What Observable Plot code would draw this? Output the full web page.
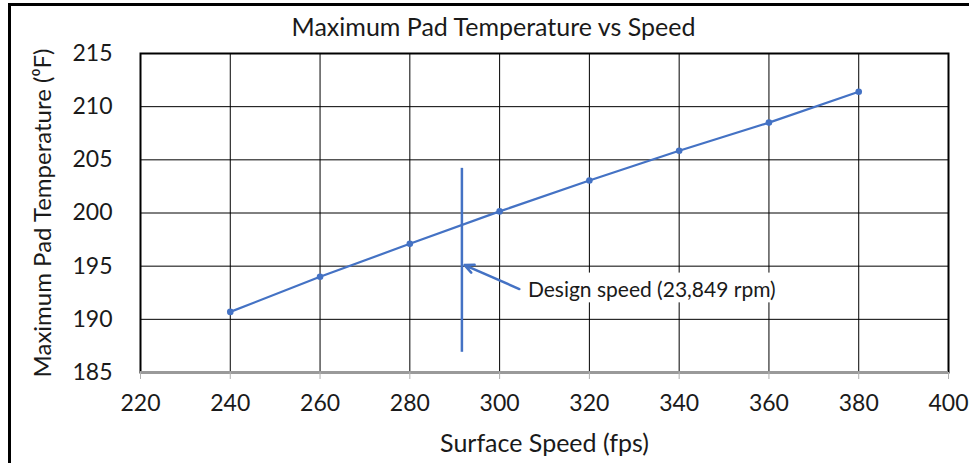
<!DOCTYPE html>
<html>
<head>
<meta charset="utf-8">
<script src="https://cdn.jsdelivr.net/npm/d3@7"></script>
<script src="https://cdn.jsdelivr.net/npm/@observablehq/plot@0.6"></script>
<style>
  html, body { margin: 0; padding: 0; background: #fff; }
  #wrap { position: relative; width: 969px; height: 463px; overflow: hidden; }
  #border { position: absolute; left: 8px; top: 3px; width: 980px; height: 480px;
            border-top: 3px solid #000; border-left: 3px solid #000; pointer-events: none; }
</style>
</head>
<body>
<div id="wrap"><div id="border"></div></div>
<script>
// Data
const speeds = [240, 260, 280, 300, 320, 340, 360, 380];          // Surface speed (fps)
const temps  = [190.7, 194.0, 197.1, 200.15, 203.05, 205.85, 208.5, 211.4]; // Max pad temperature (°F)

const xTicks = [220, 240, 260, 280, 300, 320, 340, 360, 380, 400];
const yTicks = [185, 190, 195, 200, 205, 210, 215];

const titleText = "Maximum Pad Temperature vs Speed";
const xLabel = "Surface Speed (fps)";
const yLabel = "Maximum Pad Temperature (\u2070F)";

// Design speed marker and annotation
const designSpeed = [291.6];
const designRange = [186.9, 204.2];
const annoText = ["Design speed (23,849 rpm)"];
const annoArrow = [{x1: 304.4, y1: 192.85, x2: 292.2, y2: 195.1}];
const annoBox = [{x1: 304.0, x2: 371.0, y1: 191.55, y2: 194.35}];
const annoLabelPos = [{x: 306.3, y: 192.75}];

const blue = "#4472C4";
const data = speeds.map((s, i) => ({speed: s, temp: temps[i]}));

const chart = Plot.plot({
  width: 969,
  height: 463,
  marginLeft: 140,
  marginRight: 21,
  marginTop: 53,
  marginBottom: 91,
  style: {fontFamily: "Lato, 'Open Sans', sans-serif", fontSize: "23px", color: "#1a1a1a", background: "transparent"},
  x: {domain: [220, 400]},
  y: {domain: [185, 215]},
  marks: [
    Plot.gridX(xTicks, {stroke: "#000", strokeOpacity: 1, strokeWidth: 1}),
    Plot.gridY(yTicks, {stroke: "#000", strokeOpacity: 1, strokeWidth: 1}),
    Plot.frame({stroke: "#000", strokeWidth: 2}),
    Plot.ruleY([185], {stroke: "#9a9a9a", strokeWidth: 3}),
    Plot.axisX(xTicks, {tickSize: 7, stroke: "#b0b0b0", tickPadding: 15, fontSize: 23,
      label: null}),
    Plot.axisY(yTicks, {tickSize: 0, tickPadding: 28, fontSize: 23,
      label: null}),
    Plot.axisX({label: xLabel, labelAnchor: "center", labelArrow: "none", labelOffset: 79,
      ticks: [], tickSize: 0, fontSize: 25}),
    Plot.axisY({label: yLabel, labelAnchor: "center", labelArrow: "none", labelOffset: 107,
      ticks: [], tickSize: 0, fontSize: 24}),
    Plot.line(data, {x: "speed", y: "temp", stroke: blue, strokeWidth: 2.2}),
    Plot.dot(data, {x: "speed", y: "temp", r: 3.3, fill: blue}),
    Plot.ruleX(designSpeed, {y1: designRange[0], y2: designRange[1], stroke: blue, strokeWidth: 2.5}),
    Plot.rect(annoBox, {x1: "x1", x2: "x2", y1: "y1", y2: "y2", fill: "#fff"}),
    Plot.arrow(annoArrow, {x1: "x1", y1: "y1", x2: "x2", y2: "y2", stroke: blue, strokeWidth: 2.5, headLength: 6, headAngle: 50}),
    Plot.text(annoLabelPos, {x: "x", y: "y", text: () => annoText[0], textAnchor: "start", fontSize: 21, fill: "#1a1a1a"}),
    Plot.text([titleText], {frameAnchor: "top", dy: -35, dx: -51, fontSize: 25, fill: "#1a1a1a"})
  ]
});

document.getElementById("wrap").prepend(chart);
chart.style.position = "absolute";
chart.style.left = "0";
chart.style.top = "0";
</script>
</body>
</html>
